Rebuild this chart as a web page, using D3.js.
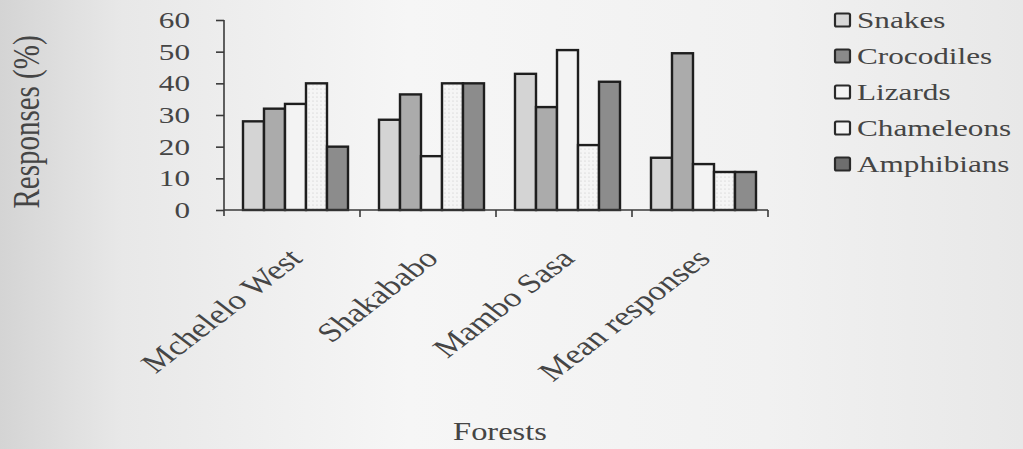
<!DOCTYPE html>
<html>
<head>
<meta charset="utf-8">
<script src="https://cdn.jsdelivr.net/npm/d3@7/dist/d3.min.js"></script>
<style>
  html, body { margin: 0; padding: 0; background: #eeeeee; }
  svg { display: block; }
  text { font-family: 'Liberation Serif', 'DejaVu Serif', serif; fill: #454545; }
</style>
</head>
<body>
<script>
// Forest categories and the share of responses per reptile group (%)
const forests = ['Mchelelo West', 'Shakababo', 'Mambo Sasa', 'Mean responses'];
const seriesNames = ['Snakes', 'Crocodiles', 'Lizards', 'Chameleons', 'Amphibians'];
const snakes = [28, 28.5, 43, 16.5];
const crocodiles = [32, 36.5, 32.5, 49.5];
const lizards = [33.5, 17, 50.5, 14.5];
const chameleons = [40, 40, 20.5, 12];
const amphibians = [20, 40, 40.5, 12];
const yTicks = [0, 10, 20, 30, 40, 50, 60];

const seriesValues = [snakes, crocodiles, lizards, chameleons, amphibians];
const fills = ['#d4d4d4', '#ababab', '#f3f3f3', 'url(#dots)', '#8c8c8c'];
const swatchFills = ['#d8d8d8', '#8a8a8a', '#f4f4f4', '#f4f4f4', '#6e6e6e'];

const W = 1023, H = 449;
const stretch = 1.3; // the scanned figure is wider than tall
const margin = { left: 224, right: 255, top: 20, bottom: 239 };

const svg = d3.select('body').append('svg')
    .attr('width', W)
    .attr('height', H);

// scanned page background
const defs = svg.append('defs');
const grad = defs.append('linearGradient').attr('id', 'bg')
    .attr('x1', 0).attr('x2', 1).attr('y1', 0).attr('y2', 0);
grad.append('stop').attr('offset', '0%').attr('stop-color', '#d4d4d4');
grad.append('stop').attr('offset', '12%').attr('stop-color', '#e8e8e8');
grad.append('stop').attr('offset', '40%').attr('stop-color', '#f6f6f6');
grad.append('stop').attr('offset', '75%').attr('stop-color', '#f1f1f1');
grad.append('stop').attr('offset', '100%').attr('stop-color', '#e8e8e8');

const pat = defs.append('pattern').attr('id', 'dots')
    .attr('width', 4).attr('height', 4)
    .attr('patternUnits', 'userSpaceOnUse');
pat.append('rect').attr('width', 4).attr('height', 4).attr('fill', '#f5f5f5');
pat.append('circle').attr('cx', 1).attr('cy', 1).attr('r', 0.6).attr('fill', '#c4c4c4');

svg.append('rect').attr('width', W).attr('height', H).attr('fill', 'url(#bg)');

// scales
const x = d3.scaleBand()
    .domain(forests)
    .range([margin.left, W - margin.right])
    .padding(0);

const xInner = d3.scaleBand()
    .domain(seriesNames)
    .range([19, 124])
    .padding(0);

const y = d3.scaleLinear()
    .domain([0, 60])
    .range([H - margin.bottom, margin.top]);

// bars
const groups = svg.append('g').selectAll('g')
    .data(forests)
    .join('g')
    .attr('transform', (d) => 'translate(' + x(d) + ',0)');

groups.selectAll('rect')
    .data((d, i) => seriesNames.map((s, j) => ({ s, j, v: seriesValues[j][i] })))
    .join('rect')
    .attr('x', (d) => xInner(d.s))
    .attr('width', xInner.bandwidth())
    .attr('y', (d) => y(d.v))
    .attr('height', (d) => y(0) - y(d.v))
    .attr('fill', (d) => fills[d.j])
    .attr('stroke', '#1e1e1e')
    .attr('stroke-width', 2.4);

// y axis
const yAxis = d3.axisLeft(y).tickValues(yTicks).tickSize(8).tickFormat('');
const gy = svg.append('g')
    .attr('transform', 'translate(' + margin.left + ',0)')
    .call(yAxis);
gy.select('.domain').attr('d', 'M0,' + y(60) + 'V' + (y(0) + 6));
gy.selectAll('path, line').attr('stroke', '#3a3a3a').attr('stroke-width', 1.6);

svg.append('g').selectAll('text')
    .data(yTicks)
    .join('text')
    .attr('transform', (d) => 'translate(190,' + (y(d) + 8) + ') scale(' + stretch + ',1)')
    .attr('text-anchor', 'end')
    .attr('font-size', 24)
    .text((d) => d);

// x axis: ticks at category boundaries
const gx = svg.append('g')
    .attr('transform', 'translate(0,' + y(0) + ')');
gx.append('line')
    .attr('x1', margin.left).attr('x2', W - margin.right)
    .attr('stroke', '#3a3a3a').attr('stroke-width', 1.6);
gx.selectAll('.tick')
    .data(forests)
    .join('line')
    .attr('class', 'tick')
    .attr('x1', (d) => x(d) + x.bandwidth())
    .attr('x2', (d) => x(d) + x.bandwidth())
    .attr('y1', 0).attr('y2', 7)
    .attr('stroke', '#3a3a3a').attr('stroke-width', 1.6);

svg.append('g').selectAll('text')
    .data(forests)
    .join('text')
    .attr('transform', (d) =>
        'translate(' + (x(d) + x.bandwidth() / 2 + 12) + ',' + (y(0) + 50) + ')' +
        ' scale(' + stretch + ',1) rotate(-45)')
    .attr('text-anchor', 'end')
    .attr('font-size', 27)
    .text((d) => d);

// axis titles
svg.append('text')
    .attr('transform', 'translate(500,440) scale(' + stretch + ',1)')
    .attr('text-anchor', 'middle')
    .attr('font-size', 25)
    .text('Forests');

svg.append('text')
    .attr('transform', 'translate(39,122) scale(' + stretch + ',1) rotate(-90)')
    .attr('text-anchor', 'middle')
    .attr('font-size', 29)
    .text('Responses (%)');

// legend
const legend = svg.append('g').selectAll('g')
    .data(seriesNames)
    .join('g')
    .attr('transform', (d, i) => 'translate(835,' + (20 + i * 36) + ')');

legend.append('rect')
    .attr('x', 0).attr('y', -6.5)
    .attr('width', 15).attr('height', 13)
    .attr('rx', 1.5)
    .attr('fill', (d, i) => swatchFills[i])
    .attr('stroke', '#2a2a2a')
    .attr('stroke-width', 2.2);

legend.append('text')
    .attr('transform', 'translate(22,8) scale(' + stretch + ',1)')
    .attr('font-size', 24)
    .text((d) => d);
</script>
</body>
</html>
